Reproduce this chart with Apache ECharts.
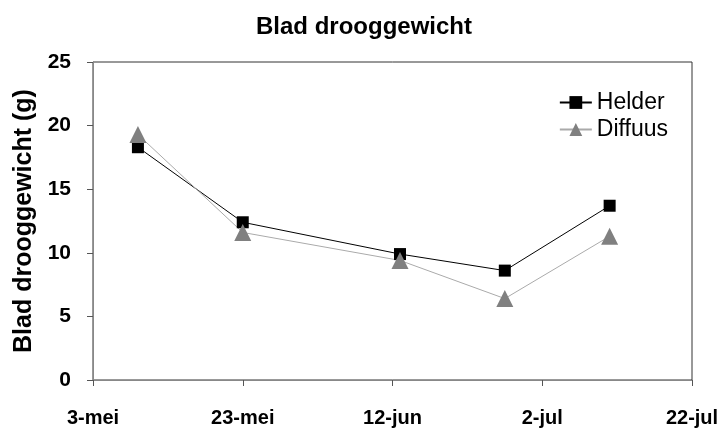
<!DOCTYPE html>
<html><head><meta charset="utf-8">
<script src="https://cdn.jsdelivr.net/npm/echarts@6/dist/echarts.min.js"></script>
<style>html,body{margin:0;padding:0;background:#fff}#c{width:728px;height:432px}</style>
</head><body><div id="c"></div>
<script>
const dates = ['2008-05-09','2008-05-23','2008-06-13','2008-06-27','2008-07-11'];
const helder = [18.3, 12.4, 9.9, 8.6, 13.7];
const diffuus = [19.3, 11.6, 9.4, 6.4, 11.3];
const xTickLabels = ['3-mei','23-mei','12-jun','2-jul','22-jul'];
const startDate = '2008-05-03';

const DAY = 86400000;
const t0 = Date.parse(startDate);
const dayOf = d => Math.round((Date.parse(d) - t0) / DAY);

const chart = echarts.init(document.getElementById('c'));
const font = 'Liberation Sans, Arial, sans-serif';
chart.setOption({
  animation: false,
  title: {text: 'Blad drooggewicht', left: 'center', top: 10,
    textStyle: {fontFamily: font, fontSize: 24, fontWeight: 'bold', color: '#000'}},
  grid: {left: 93, right: 36, top: 62, bottom: 52, show: true, borderColor: '#333', borderWidth: 1},
  legend: {
    orient: 'vertical', right: 55, top: 86, itemGap: 4, itemWidth: 32, itemHeight: 16,
    textStyle: {fontFamily: font, fontSize: 23, color: '#000'},
    data: ['Helder', 'Diffuus']
  },
  xAxis: {
    type: 'value', min: 0, max: 80, interval: 20,
    axisLine: {lineStyle: {color: '#888'}},
    axisTick: {show: true, length: 6, lineStyle: {color: '#555'}},
    splitLine: {show: false},
    axisLabel: {fontFamily: font, fontSize: 20, fontWeight: 'bold', color: '#000', margin: 28,
      formatter: v => xTickLabels[Math.round(v / 20)]}
  },
  yAxis: {
    type: 'value', min: 0, max: 25, interval: 5,
    name: 'Blad drooggewicht (g)', nameLocation: 'middle', nameGap: 55,
    nameTextStyle: {fontFamily: font, fontSize: 25, fontWeight: 'bold', color: '#000'},
    axisLine: {show: true, lineStyle: {color: '#888'}},
    axisTick: {show: true, length: 6, lineStyle: {color: '#555'}},
    splitLine: {show: false},
    axisLabel: {fontFamily: font, fontSize: 21, fontWeight: 'bold', color: '#000', margin: 22}
  },
  series: [
    {name: 'Helder', type: 'line', data: dates.map((d, i) => [dayOf(d), helder[i]]),
     symbol: 'rect', symbolSize: 12, lineStyle: {color: '#000', width: 1},
     itemStyle: {color: '#000'}},
    {name: 'Diffuus', type: 'line', data: dates.map((d, i) => [dayOf(d), diffuus[i]]),
     symbol: 'triangle', symbolSize: 17, lineStyle: {color: '#aaa', width: 1},
     itemStyle: {color: '#808080'}}
  ]
});
</script></body></html>
